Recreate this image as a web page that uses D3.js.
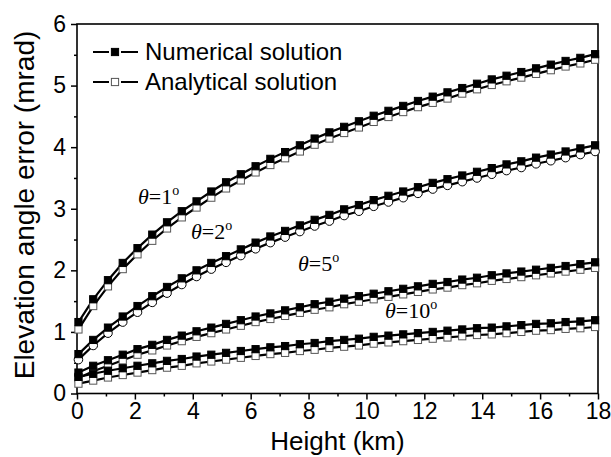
<!DOCTYPE html>
<html><head><meta charset="utf-8">
<script src="https://cdn.jsdelivr.net/npm/d3@7"></script>
<style>body{margin:0;background:#fff}svg{display:block}</style>
</head><body>
<svg id="chart" width="611" height="457"></svg>
<script>
const heights = [0.05,0.56,1.07,1.58,2.09,2.6,3.11,3.62,4.13,4.64,5.15,5.66,6.17,6.68,7.19,7.7,8.21,8.72,9.23,9.74,10.25,10.76,11.27,11.78,12.29,12.8,13.31,13.82,14.33,14.84,15.35,15.86,16.37,16.88,17.39,17.9];
const num1 = [1.16,1.53,1.84,2.12,2.36,2.58,2.78,2.96,3.12,3.28,3.43,3.56,3.69,3.81,3.92,4.03,4.14,4.24,4.33,4.42,4.51,4.59,4.67,4.75,4.82,4.89,4.96,5.03,5.10,5.16,5.22,5.28,5.34,5.40,5.45,5.51];
const ana1 = [1.04,1.42,1.74,2.02,2.26,2.48,2.68,2.86,3.02,3.18,3.33,3.46,3.59,3.71,3.82,3.93,4.04,4.14,4.23,4.32,4.41,4.49,4.57,4.65,4.72,4.79,4.87,4.94,5.01,5.07,5.13,5.19,5.25,5.31,5.36,5.42];
const num2 = [0.64,0.87,1.07,1.25,1.42,1.58,1.73,1.87,2.00,2.12,2.23,2.34,2.45,2.55,2.64,2.73,2.82,2.90,2.99,3.06,3.14,3.21,3.28,3.35,3.42,3.48,3.54,3.60,3.66,3.72,3.77,3.83,3.88,3.93,3.98,4.03];
const ana2 = [0.55,0.78,0.98,1.16,1.32,1.48,1.63,1.77,1.90,2.02,2.13,2.24,2.35,2.45,2.54,2.63,2.72,2.80,2.89,2.96,3.04,3.11,3.18,3.25,3.32,3.38,3.44,3.50,3.56,3.62,3.67,3.73,3.78,3.83,3.88,3.93];
const num5 = [0.34,0.45,0.54,0.63,0.72,0.79,0.87,0.94,1.01,1.07,1.13,1.19,1.25,1.30,1.35,1.40,1.45,1.49,1.54,1.58,1.62,1.66,1.70,1.74,1.78,1.81,1.85,1.88,1.92,1.95,1.98,2.01,2.04,2.07,2.10,2.13];
const ana5 = [0.25,0.36,0.45,0.54,0.63,0.70,0.78,0.85,0.92,0.98,1.04,1.10,1.16,1.21,1.26,1.31,1.36,1.40,1.45,1.49,1.53,1.57,1.61,1.65,1.69,1.72,1.76,1.79,1.83,1.86,1.89,1.92,1.95,1.98,2.01,2.04];
const num10 = [0.27,0.32,0.37,0.41,0.45,0.49,0.53,0.56,0.60,0.63,0.66,0.69,0.72,0.75,0.77,0.80,0.82,0.85,0.87,0.89,0.92,0.94,0.96,0.98,1.00,1.02,1.04,1.06,1.07,1.09,1.11,1.13,1.14,1.16,1.17,1.19];
const ana10 = [0.16,0.21,0.26,0.30,0.34,0.38,0.42,0.45,0.49,0.52,0.55,0.58,0.61,0.64,0.66,0.69,0.71,0.74,0.76,0.78,0.81,0.83,0.85,0.87,0.89,0.91,0.93,0.95,0.96,0.98,1.00,1.02,1.03,1.05,1.06,1.08];
const xTicks = [0,2,4,6,8,10,12,14,16,18];
const yTicks = [0,1,2,3,4,5,6];
const legendLabels = ["Numerical solution","Analytical solution"];
const angleLabels = ["1","2","5","10"];

const L=77, R=598, T=24, B=393.5;
const svg = d3.select("#chart");
const x = d3.scaleLinear().domain([0,18]).range([L,R]);
const y = d3.scaleLinear().domain([0,6]).range([B,T]);

// axes
const gx = svg.append("g").attr("transform",`translate(0,${B})`)
  .call(d3.axisBottom(x).tickValues(xTicks).tickSize(6).tickPadding(3).tickFormat(d3.format("d")));
const gxm = svg.append("g").attr("transform",`translate(0,${B})`)
  .call(d3.axisBottom(x).tickValues(d3.range(1,18,2)).tickSize(3).tickFormat(""));
const gy = svg.append("g").attr("transform",`translate(${L},0)`)
  .call(d3.axisLeft(y).tickValues(yTicks).tickSize(6).tickPadding(5).tickFormat(d3.format("d")));
const gym = svg.append("g").attr("transform",`translate(${L},0)`)
  .call(d3.axisLeft(y).tickValues(d3.range(0.5,6,1)).tickSize(3).tickFormat(""));
[gx,gxm,gy,gym].forEach(g=>{
  g.select(".domain").remove();
  g.selectAll(".tick line").attr("stroke","#000").attr("stroke-width",1.5);
  g.selectAll("text").attr("font-family","'Liberation Sans',Arial,sans-serif").attr("font-size",23).attr("fill","#000");
});

// frame
svg.append("rect").attr("x",L).attr("y",T).attr("width",R-L).attr("height",B-T)
  .attr("fill","none").attr("stroke","#000").attr("stroke-width",1.6);

// titles
svg.append("text").attr("x",(L+R)/2).attr("y",450).attr("text-anchor","middle")
  .attr("font-family","'Liberation Sans',Arial,sans-serif").attr("font-size",26).text("Height (km)");
svg.append("text").attr("transform",`translate(34,205) rotate(-90)`).attr("text-anchor","middle")
  .attr("font-family","'Liberation Sans',Arial,sans-serif").attr("font-size",28).text("Elevation angle error (mrad)");

const series = [
  {vals:ana1, filled:false, shape:"square"},
  {vals:ana2, filled:false, shape:"circle"},
  {vals:ana5, filled:false, shape:"square"},
  {vals:ana10, filled:false, shape:"square"},
  {vals:num1, filled:true, shape:"square"},
  {vals:num2, filled:true, shape:"square"},
  {vals:num5, filled:true, shape:"square"},
  {vals:num10, filled:true, shape:"square"}
];
const line = d3.line().x(d=>x(d[0])).y(d=>y(d[1]));
const plot = svg.append("g");
series.forEach(s=>{
  const pts = heights.map((h,i)=>[h,s.vals[i]]);
  plot.append("path").datum(pts).attr("d",line).attr("fill","none").attr("stroke","#000").attr("stroke-width",2.2);
});
function drawMarker(g, cx, cy, s){
  if(s.shape==="circle"){
    g.append("circle").attr("cx",cx).attr("cy",cy).attr("r",4.3)
      .attr("fill","#fff").attr("stroke","#000").attr("stroke-width",1);
  } else {
    g.append("rect").attr("x",cx-3.6).attr("y",cy-3.6).attr("width",7.2).attr("height",7.2)
      .attr("fill",s.filled?"#000":"#fff").attr("stroke",s.filled?"#000":"#555").attr("stroke-width",1);
  }
}
series.forEach(s=>{
  heights.forEach((h,i)=>drawMarker(plot, x(h), y(s.vals[i]), s));
});

// legend
const legY=[52,82];
legendLabels.forEach((lab,i)=>{
  svg.append("line").attr("x1",93).attr("x2",138).attr("y1",legY[i]).attr("y2",legY[i]).attr("stroke","#000").attr("stroke-width",2.2);
  svg.append("rect").attr("x",115-6).attr("y",legY[i]-5).attr("width",12).attr("height",10).attr("fill","#fff");
  drawMarker(svg,115,legY[i],{filled:i===0,shape:"square"});
  svg.append("text").attr("x",145).attr("y",legY[i]+8).attr("font-family","'Liberation Sans',Arial,sans-serif")
    .attr("font-size",24).text(lab);
});

// angle annotations
const annPos=[[138,204],[191,239],[298,271],[385,318]];
angleLabels.forEach((a,i)=>{
  const t = svg.append("text").attr("x",annPos[i][0]).attr("y",annPos[i][1])
    .attr("font-family","'Liberation Serif','Times New Roman',serif").attr("font-size",22);
  t.append("tspan").attr("font-style","italic").text("θ");
  t.append("tspan").text("=" + a);
  t.append("tspan").attr("dy",-9).attr("font-size",14).text("o");
});
</script>
</body></html>
